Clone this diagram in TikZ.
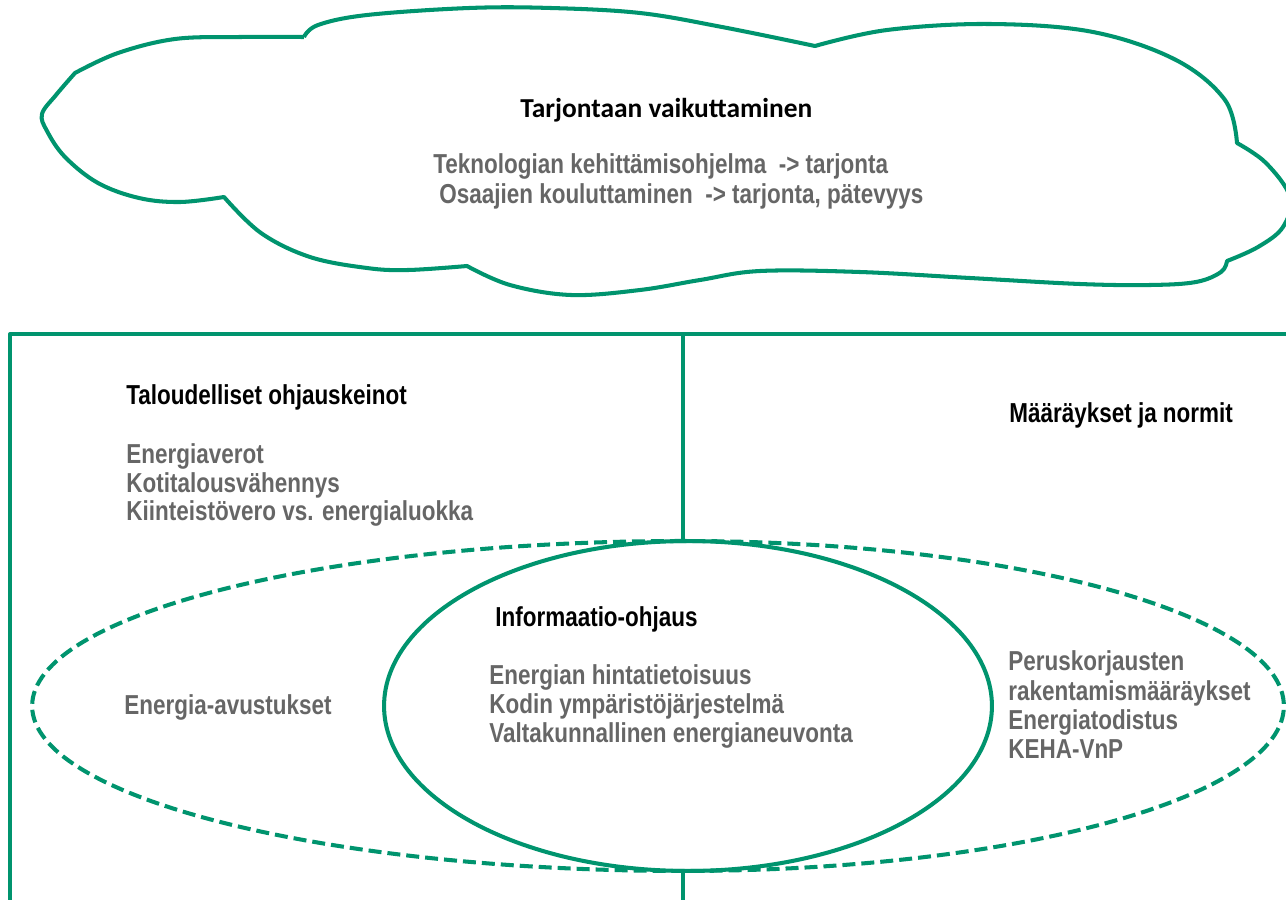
\documentclass[tikz,border=0pt]{standalone}
\usepackage{fontspec}
\setmainfont{Liberation Sans}
\newfontfamily\kapea[FakeStretch=0.82]{Liberation Sans}
\newfontfamily\pilvifont{Carlito}
\usetikzlibrary{shapes.geometric}
\definecolor{vihrea}{RGB}{0,148,110}
\definecolor{harmaa}{RGB}{102,102,102}
\tikzset{
	reuna/.style={line width=2.3pt, color=vihrea, line join=round},
	katko/.style={reuna, dash pattern=on 0.26cm off 0.12cm},
	otsikko/.style={font=\kapea\bfseries\fontsize{15.6}{16.2}\selectfont, text=black, inner sep=0pt, anchor=base west},
	rivi/.style={font=\kapea\bfseries\fontsize{15.6}{16.2}\selectfont, text=harmaa, inner sep=0pt, anchor=base west},
}

\begin{document}
\begin{tikzpicture}[x=0.02cm, y=-0.02cm]
			%%%%% START %%%%%
			\useasboundingbox (0, 0) rectangle (1286, 900);
			\clip (0, 0) rectangle (1286, 900);
			
			% pilvi
			\draw[reuna] plot[smooth, tension=0.6] coordinates {(304, 37) (240, 37) (175, 39) (118, 53) (75, 73)}
				-- plot[smooth, tension=0.6] coordinates {(75, 73) (56, 95) (42, 114) (47, 131) (65, 157) (98, 183) (139, 198) (180, 202) (224, 197)}
				-- plot[smooth, tension=0.6] coordinates {(224, 197) (261, 233) (310, 257) (367, 268) (408, 270) (467, 266)}
				-- plot[smooth, tension=0.6] coordinates {(467, 266) (510, 285) (571, 295) (640, 290) (700, 280) (760, 271) (860, 272) (970, 278) (1080, 284) (1150, 285) (1196, 282) (1221, 272) (1227, 261)}
				-- plot[smooth, tension=0.6] coordinates {(1227, 261) (1258, 247) (1283, 227) (1290, 197) (1266, 163) (1237, 143)}
				-- plot[smooth, tension=0.6] coordinates {(1237, 143) (1225, 100) (1176, 60) (1093, 32) (990, 24) (887, 30) (815, 46)}
				-- plot[smooth, tension=0.6] coordinates {(815, 46) (722, 27) (640, 13) (551, 8) (469, 8) (367, 15) (318, 25) (304, 37)};
			
			\node[otsikko, font=\pilvifont\bfseries\fontsize{15.6}{16.2}\selectfont] (tarjonta) at (520, 117) {Tarjontaan vaikuttaminen};
			\node[rivi] (teknologia) at (433, 173) {Teknologian kehittämisohjelma\ \ -> tarjonta};
			\node[rivi] (osaajat) at (439, 203) {Osaajien kouluttaminen\ \ -> tarjonta, pätevyys};
			
			% kehys
			\coordinate (kulmaA) at (1300, 334);
			\coordinate (kulmaB) at (10, 334);
			\coordinate (kulmaC) at (10, 910);
			\coordinate (jakoA) at (683, 334);
			\coordinate (jakoB) at (683, 541);
			\coordinate (jakoC) at (683, 871);
			\coordinate (jakoD) at (683, 910);
			\draw[reuna] (kulmaA) -- (kulmaB) -- (kulmaC);
			\draw[reuna] (jakoA) -- (jakoB);
			\draw[reuna] (jakoC) -- (jakoD);
			
			% katkoviivainen soikio
			\draw[katko] (jakoB) arc[start angle=90, end angle=270, x radius=13.02cm, y radius=3.3cm]
				arc[start angle=270, end angle=450, x radius=12.02cm, y radius=3.3cm];
			
			% informaatio-ohjauksen soikio
			\node[ellipse, draw, reuna, minimum width=12.16cm, minimum height=6.6cm, inner sep=0pt] (info) at (688, 706) {};
			
			\node[otsikko] (talous) at (126, 404) {Taloudelliset ohjauskeinot};
			\node[rivi] (verot) at (126, 463) {Energiaverot};
			\node[rivi] (kotitalous) at (126, 492) {Kotitalousvähennys};
			\node[rivi] (kiinteisto) at (126, 520) {Kiinteistövero vs. energialuokka};
			
			\node[otsikko] (normit) at (1009, 422) {Määräykset ja normit};
			
			\node[otsikko] (informaatio) at (495, 626) {Informaatio-ohjaus};
			\node[rivi] (hinta) at (489, 684) {Energian hintatietoisuus};
			\node[rivi] (koti) at (489, 713) {Kodin ympäristöjärjestelmä};
			\node[rivi] (neuvonta) at (489, 742) {Valtakunnallinen energianeuvonta};
			
			\node[rivi] (avustukset) at (124, 714) {Energia-avustukset};
			
			\node[rivi] (perus) at (1008, 670) {Peruskorjausten};
			\node[rivi] (rakentaminen) at (1008, 700) {rakentamismääräykset};
			\node[rivi] (todistus) at (1008, 729) {Energiatodistus};
			\node[rivi] (keha) at (1008, 758) {KEHA-VnP};
			
			%%%%% END %%%%%
\end{tikzpicture}
\end{document}
